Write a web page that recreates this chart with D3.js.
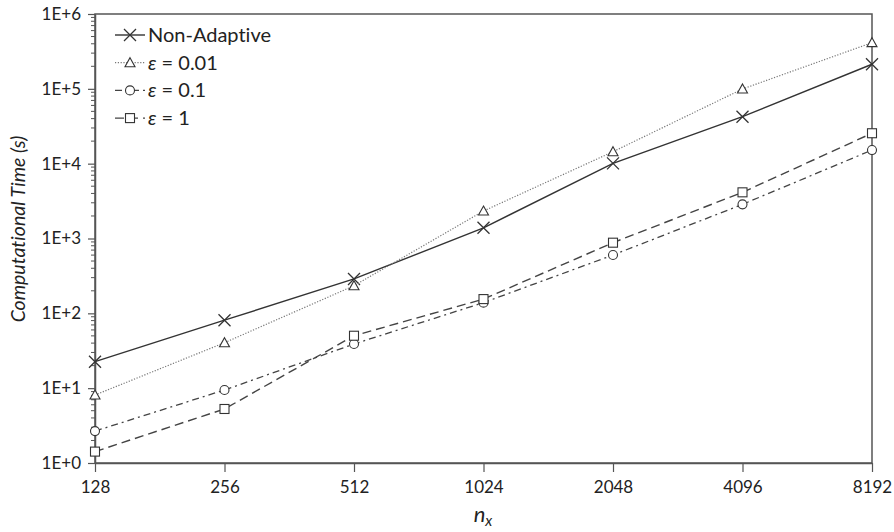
<!DOCTYPE html>
<html>
<head>
<meta charset="utf-8">
<script src="https://cdn.jsdelivr.net/npm/d3@7/dist/d3.min.js"></script>
<style>
  html, body { margin: 0; padding: 0; background: #fff; }
  svg { display: block; }
  text { font-family: Lato, "Open Sans", sans-serif; fill: #222; font-variant-ligatures: none; }
</style>
</head>
<body>
<svg id="chart" width="894" height="532"></svg>
<script>
// Grid sizes along x (powers of two)
const nx = [128, 256, 512, 1024, 2048, 4096, 8192];

// Computational time (s) per run
const nonAdaptive = [22.6, 81, 288, 1390, 10100, 42400, 213000];
const eps001 = [8.1, 40.5, 234, 2330, 14450, 99500, 414000];
const eps01 = [2.67, 9.45, 38.9, 139, 601, 2860, 15200];
const eps1 = [1.42, 5.27, 50.2, 155, 879, 4140, 25500];

const seriesNames = ["Non-Adaptive", "\u03B5 = 0.01", "\u03B5 = 0.1", "\u03B5 = 1"];
const yTickValues = [1, 10, 100, 1000, 10000, 100000, 1000000];
const yTickLabels = ["1E+0", "1E+1", "1E+2", "1E+3", "1E+4", "1E+5", "1E+6"];

const svg = d3.select("#chart");
const plotLeft = 95, plotRight = 872, plotTop = 14, plotBottom = 463;
const axisColor = "#555";

const x = d3.scaleLog().base(2).domain([128, 8192]).range([plotLeft, plotRight]);
const y = d3.scaleLog().domain([1, 1e6]).range([plotBottom, plotTop]);

// Frame
svg.append("rect")
  .attr("x", plotLeft).attr("y", plotTop)
  .attr("width", plotRight - plotLeft).attr("height", plotBottom - plotTop)
  .attr("fill", "none").attr("stroke", axisColor).attr("stroke-width", 1.5);

// Y axis: decade labels plus log minor ticks
const minor = [];
for (let e = 0; e < 6; e++) for (let m = 2; m <= 9; m++) minor.push(m * Math.pow(10, e));
svg.append("g").selectAll("line").data(minor).join("line")
  .attr("x1", plotLeft - 4).attr("x2", plotLeft)
  .attr("y1", d => y(d)).attr("y2", d => y(d))
  .attr("stroke", axisColor).attr("stroke-width", 1);

const yAxis = d3.axisLeft(y).tickValues(yTickValues)
  .tickFormat((d, i) => yTickLabels[i]).tickSizeInner(7).tickSizeOuter(0).tickPadding(7);
const gy = svg.append("g").attr("transform", `translate(${plotLeft},0)`).call(yAxis);
gy.select(".domain").attr("stroke", axisColor).attr("stroke-width", 1.5);
gy.selectAll(".tick line").attr("stroke", axisColor).attr("stroke-width", 1.2);
gy.selectAll(".tick text").attr("font-size", 17).attr("font-family", "Lato, sans-serif").attr("fill", "#222");

// X axis
const xAxis = d3.axisBottom(x).tickValues(nx).tickFormat(d3.format("d"))
  .tickSizeInner(9).tickSizeOuter(0).tickPadding(9);
const gx = svg.append("g").attr("transform", `translate(0,${plotBottom})`).call(xAxis);
gx.select(".domain").attr("stroke", axisColor).attr("stroke-width", 1.5);
gx.selectAll(".tick line").attr("stroke", axisColor).attr("stroke-width", 1.2);
gx.selectAll(".tick text").attr("font-size", 17).attr("font-family", "Lato, sans-serif").attr("fill", "#222");

// Axis titles
svg.append("text")
  .attr("transform", `translate(25,229) rotate(-90)`)
  .attr("text-anchor", "middle").attr("font-size", 19.5).attr("font-style", "italic")
  .text("Computational Time (s)");

const xt = svg.append("text").attr("x", 483).attr("y", 522)
  .attr("text-anchor", "middle").attr("font-size", 22).attr("font-style", "italic");
xt.append("tspan").text("n");
xt.append("tspan").attr("font-size", 15).attr("dy", 4).text("x");

// Series styles
const series = [
  { name: seriesNames[0], values: nonAdaptive, dash: null, color: "#333", width: 1.4, marker: "x" },
  { name: seriesNames[1], values: eps001, dash: "1.2,1.6", color: "#777", width: 1.2, marker: "tri" },
  { name: seriesNames[2], values: eps01, dash: "7,4,2,4", color: "#444", width: 1.3, marker: "circ" },
  { name: seriesNames[3], values: eps1, dash: "9,5", color: "#444", width: 1.4, marker: "sq" }
];

const line = d3.line().x(d => x(d[0])).y(d => y(d[1]));

function drawMarker(g, kind, cx, cy) {
  const c = "#333";
  if (kind === "x") {
    const s = 6;
    g.append("path").attr("d", `M${cx - s},${cy - s}L${cx + s},${cy + s}M${cx - s},${cy + s}L${cx + s},${cy - s}`)
      .attr("stroke", c).attr("stroke-width", 1.3).attr("fill", "none");
  } else if (kind === "tri") {
    const s = 5;
    g.append("path").attr("d", `M${cx},${cy - s}L${cx + s},${cy + s * 0.8}L${cx - s},${cy + s * 0.8}Z`)
      .attr("stroke", c).attr("stroke-width", 1.1).attr("fill", "#fff");
  } else if (kind === "circ") {
    g.append("circle").attr("cx", cx).attr("cy", cy).attr("r", 4.5)
      .attr("stroke", c).attr("stroke-width", 1.1).attr("fill", "#fff");
  } else {
    const s = 4.5;
    g.append("rect").attr("x", cx - s).attr("y", cy - s).attr("width", 2 * s).attr("height", 2 * s)
      .attr("stroke", c).attr("stroke-width", 1.1).attr("fill", "#fff");
  }
}

series.forEach(s => {
  const pts = nx.map((n, i) => [n, s.values[i]]);
  const g = svg.append("g");
  g.append("path").attr("d", line(pts)).attr("fill", "none")
    .attr("stroke", s.color).attr("stroke-width", s.width)
    .attr("stroke-dasharray", s.dash);
  pts.forEach(p => drawMarker(g, s.marker, x(p[0]), y(p[1])));
});

// Legend
const lg = svg.append("g");
series.forEach((s, i) => {
  const cy = 35 + i * 27.7;
  lg.append("line").attr("x1", 115).attr("x2", 145).attr("y1", cy).attr("y2", cy)
    .attr("stroke", s.color).attr("stroke-width", s.width).attr("stroke-dasharray", s.dash);
  drawMarker(lg, s.marker, 130, cy);
  const t = lg.append("text").attr("x", 148).attr("y", cy + 7).attr("font-size", 20);
  if (i === 0) {
    t.text(s.name);
  } else {
    t.append("tspan").attr("font-style", "italic").text("\u03B5");
    t.append("tspan").text(s.name.slice(1));
  }
});
</script>
</body>
</html>
